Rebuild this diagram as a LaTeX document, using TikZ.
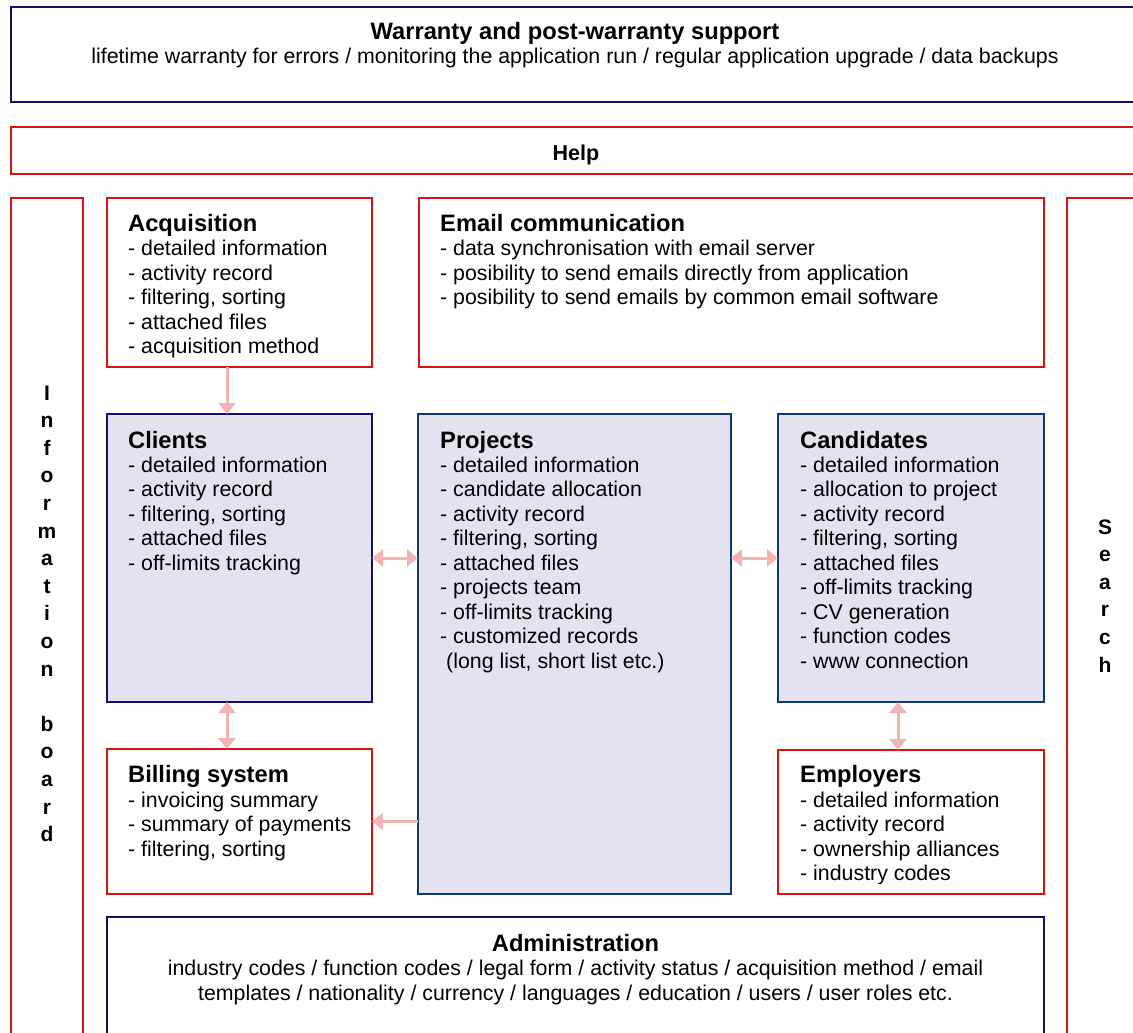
\documentclass[tikz,border=0pt]{standalone}
\usepackage{fontspec}
\setmainfont{Liberation Sans}
\usetikzlibrary{arrows.meta,calc}
\definecolor{boxred}{HTML}{DD1111}
\definecolor{boxnavy}{HTML}{160E66}
\definecolor{boxblue}{HTML}{0C3A70}
\definecolor{boxfill}{HTML}{E4E2EE}
\definecolor{arrpink}{HTML}{F4B4B4}
\newcommand\boxlist[4]{%
  \foreach \t [count=\i] in {#4}
    \node[itm] (#1-\i) at (#2,{#3+24.5*(\i-1)}) {- \t};}
\begin{document}
\begin{tikzpicture}[x=1pt,y=-1pt,
  frame/.style={draw, line width=2pt, rectangle, inner sep=0pt, outer sep=0pt, anchor=north west},
  redbox/.style={frame, draw=boxred},
  navybox/.style={frame, draw=boxnavy},
  bluebox/.style={frame, draw=boxblue, fill=boxfill},
  clibox/.style={frame, draw=boxnavy, fill=boxfill},
  ttl/.style={font=\fontsize{23.7}{28}\selectfont\bfseries, inner sep=0pt, anchor=base west},
  ctitle/.style={font=\fontsize{23.7}{28}\selectfont\bfseries, inner sep=0pt, anchor=base},
  itm/.style={font=\fontsize{21.35}{24.5}\selectfont, inner sep=0pt, anchor=base west},
  ctext/.style={font=\fontsize{21.35}{24.5}\selectfont, inner sep=0pt, anchor=base},
  side/.style={font=\fontsize{21}{24}\selectfont\bfseries, inner sep=0pt, anchor=base},
  link/.style={draw=arrpink, line width=3pt},
  tri/.tip={Triangle[width=17pt,length=11pt]}
]
\useasboundingbox (0,0) rectangle (1133,1033);
\clip (0,0) rectangle (1133,1033);

% outer frames
\node[navybox, minimum width=1140pt, minimum height=95pt] (warr) at (11,7) {};
\node[redbox, minimum width=1140pt, minimum height=47pt] (help) at (11,127) {};
\node[redbox, minimum width=72pt, minimum height=870pt] (info) at (11,198) {};
\node[redbox, minimum width=100pt, minimum height=870pt] (search) at (1067,198) {};

% inner boxes
\node[redbox, minimum width=265pt, minimum height=169pt] (acq) at (107,198) {};
\node[redbox, minimum width=625pt, minimum height=169pt] (email) at (419,198) {};
\node[clibox, minimum width=265pt, minimum height=288pt] (cli) at (107,414) {};
\node[bluebox, minimum width=313pt, minimum height=480pt] (proj) at (418,414) {};
\node[bluebox, minimum width=266pt, minimum height=288pt] (cand) at (778,414) {};
\node[redbox, minimum width=265pt, minimum height=145pt] (bill) at (107,749) {};
\node[redbox, minimum width=266pt, minimum height=144pt] (emp) at (778,750) {};
\node[navybox, minimum width=937pt, minimum height=150pt] (admin) at (107,917) {};

% warranty
\node[ctitle] (warr-t) at (575,40) {Warranty and post-warranty support};
\node[ctext] (warr-s) at (575,64) {lifetime warranty for errors / monitoring the application run / regular application upgrade / data backups};
% help
\node[ctitle, font=\fontsize{21.5}{24}\selectfont\bfseries] (help-t) at (576,160) {Help};

% side labels
\foreach \c [count=\k from 0] in {I,n,f,o,r,m,a,t,i,o,n,{},b,o,a,r,d}
  \node[side] (info-\k) at (47,{400+27.6*\k}) {\c};
\foreach \c [count=\k from 0] in {S,e,a,r,c,h}
  \node[side] (search-\k) at (1105,{534+27.6*\k}) {\c};

% acquisition
\node[ttl] (acq-t) at (128,231) {Acquisition};
\boxlist{acq}{128}{255.5}{detailed information, activity record, {filtering, sorting}, attached files, acquisition method}
% email
\node[ttl] (email-t) at (440,231) {Email communication};
\boxlist{email}{440}{255.5}{data synchronisation with email server, posibility to send emails directly from application, posibility to send emails by common email software}
% clients
\node[ttl] (cli-t) at (128,448) {Clients};
\boxlist{cli}{128}{472}{detailed information, activity record, {filtering, sorting}, attached files, off-limits tracking}
% projects
\node[ttl] (proj-t) at (440,448) {Projects};
\boxlist{proj}{440}{472}{detailed information, candidate allocation, activity record, {filtering, sorting}, attached files, projects team, off-limits tracking, customized records}
\node[itm] (proj-x) at (446,668) {(long list, short list etc.)};
% candidates
\node[ttl] (cand-t) at (800,448) {Candidates};
\boxlist{cand}{800}{472}{detailed information, allocation to project, activity record, {filtering, sorting}, attached files, off-limits tracking, CV generation, function codes, www connection}
% billing
\node[ttl] (bill-t) at (128,782) {Billing system};
\boxlist{bill}{128}{807}{invoicing summary, summary of payments, {filtering, sorting}}
% employers
\node[ttl] (emp-t) at (800,782) {Employers};
\begin{scope}
  \clip (778,750) rectangle (1044,883);
  \boxlist{emp}{800}{807}{detailed information, activity record, ownership alliances, industry codes}
\end{scope}
% administration
\node[ctitle] (admin-t) at (575.5,951) {Administration};
\node[ctext] (admin-1) at (575.5,975.5) {industry codes / function codes / legal form / activity status / acquisition method / email};
\node[ctext] (admin-2) at (575.5,1000) {templates / nationality / currency / languages / education / users / user roles etc.};

% connectors
\coordinate (ax) at (227,0);
\coordinate (ex) at (898,0);
\draw[link,-tri] (acq.south -| ax) -- (cli.north -| ax);
\draw[link,tri-tri] (cli.east) -- (cli.east -| proj.west);
\draw[link,tri-tri] (proj.east |- cand.west) -- (cand.west);
\draw[link,tri-tri] (cli.south -| ax) -- (bill.north -| ax);
\draw[link,tri-tri] (cand.south -| ex) -- (emp.north -| ex);
\draw[link,-tri] (bill.east -| proj.west) -- (bill.east);
\end{tikzpicture}
\end{document}
